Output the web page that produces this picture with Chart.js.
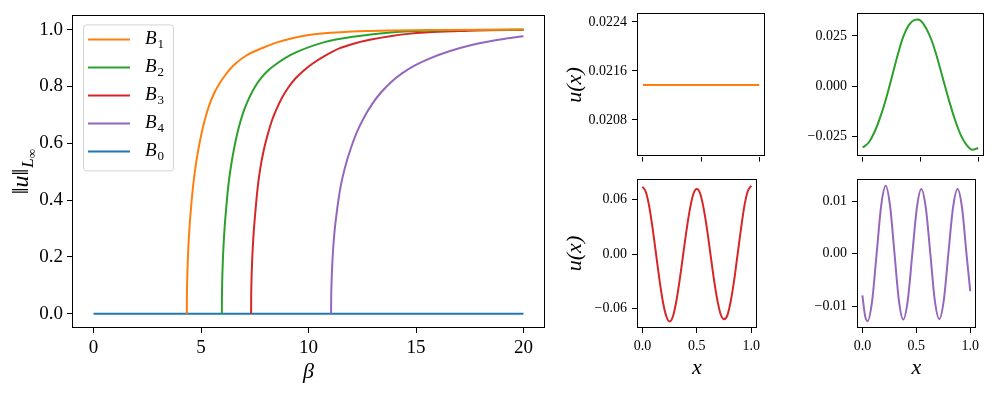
<!DOCTYPE html>
<html>
<head>
<meta charset="utf-8">
<script src="https://cdn.jsdelivr.net/npm/chart.js@4.4.1/dist/chart.umd.min.js"></script>
<style>
  body { margin: 0; background: #fff; }
  .panel { position: absolute; }
</style>
</head>
<body>
<div class="panel" style="left:0;top:0;width:560px;height:393px"><canvas id="branchChart"></canvas></div>
<div class="panel" style="left:560px;top:0;width:205px;height:170px"><canvas id="mode1Chart"></canvas></div>
<div class="panel" style="left:790px;top:0;width:194px;height:170px"><canvas id="mode2Chart"></canvas></div>
<div class="panel" style="left:560px;top:165px;width:205px;height:228px"><canvas id="mode3Chart"></canvas></div>
<div class="panel" style="left:790px;top:165px;width:194px;height:228px"><canvas id="mode4Chart"></canvas></div>
<script>
// bifurcation branches: beta vs ||u||
const branchLabels = ['B1', 'B2', 'B3', 'B4', 'B0'];
const branchColors = ['#ff7f0e', '#2ca02c', '#d62728', '#9467bd', '#1f77b4'];

const b1Beta = [4.34, 4.343, 4.352, 4.37, 4.41, 4.47, 4.54, 4.64, 4.76, 4.88, 5.02, 5.19, 5.39, 5.61, 5.84, 6.09, 6.35, 6.69, 7.09, 7.44,
  7.94, 8.54, 9.15, 9.94, 10.74, 11.48, 12.64, 13.8, 15.84, 20];
const b1Norm = [0, 0.048, 0.097, 0.152, 0.23, 0.309, 0.376, 0.455, 0.525, 0.579, 0.633, 0.686, 0.735, 0.776, 0.808, 0.836, 0.861, 0.886, 0.908, 0.922,
  0.938, 0.955, 0.968, 0.980, 0.987, 0.991, 0.995, 0.997, 0.999, 1.0];

const b2Beta = [5.97, 5.973, 5.982, 6.0, 6.04, 6.10, 6.17, 6.27, 6.39, 6.51, 6.65, 6.82, 7.02, 7.24, 7.52, 7.82, 8.06, 8.47, 9.15, 10.70,
  12.26, 13.80, 15.40, 17.47, 20];
const b2Norm = [0, 0.048, 0.097, 0.152, 0.228, 0.305, 0.37, 0.45, 0.517, 0.57, 0.622, 0.673, 0.72, 0.76, 0.80, 0.832, 0.852, 0.877, 0.91, 0.955,
  0.977, 0.99, 0.996, 0.999, 1.0];

const b3Beta = [7.33, 7.333, 7.342, 7.36, 7.40, 7.46, 7.53, 7.63, 7.75, 7.91, 8.08, 8.30, 8.53, 8.78, 9.07, 9.38, 9.73, 10.18, 10.70, 11.43,
  12.26, 13.03, 13.80, 14.63, 15.40, 16.70, 17.83, 20];
const b3Norm = [0, 0.047, 0.095, 0.148, 0.222, 0.296, 0.36, 0.44, 0.508, 0.573, 0.625, 0.68, 0.723, 0.762, 0.797, 0.827, 0.853, 0.88, 0.905, 0.934,
  0.954, 0.967, 0.977, 0.985, 0.990, 0.994, 0.997, 0.999];

const b4Beta = [11.05, 11.055, 11.07, 11.10, 11.14, 11.21, 11.30, 11.40, 11.52, 11.70, 11.95, 12.25, 12.57, 12.95, 13.35, 13.85, 14.35, 14.95,
  15.65, 16.55, 17.45, 18.32, 19.15, 20];
const b4Norm = [0, 0.053, 0.105, 0.166, 0.221, 0.289, 0.349, 0.404, 0.458, 0.516, 0.578, 0.639, 0.689, 0.737, 0.777, 0.816, 0.846, 0.874,
  0.899, 0.924, 0.943, 0.957, 0.9676, 0.9765];

const b0Beta = [0, 20];
const b0Norm = [0, 0];

const betaTicks = [0, 5, 10, 15, 20];
const normTicks = [0, 0.2, 0.4, 0.6, 0.8, 1.0];

// solution profiles u(x)
const xTicks = [0, 0.5, 1.0];

const u1X = [0, 1];
const u1 = [0.02137, 0.02137];
const u1Ticks = [0.0208, 0.0216, 0.0224];

const u2X = [0, 0.05, 0.1, 0.15, 0.2, 0.25, 0.3, 0.35, 0.4, 0.45, 0.474, 0.5, 0.55, 0.6, 0.65, 0.7, 0.75, 0.8, 0.85, 0.9, 0.95, 1.0];
const u2 = [-0.0307, -0.0283, -0.0232, -0.0158, -0.0067, 0.0040, 0.0150, 0.0245, 0.0305, 0.0330, 0.0332, 0.0326, 0.0287, 0.0222, 0.0130, 0.0025, -0.0078, -0.0171, -0.0246, -0.0295, -0.0318, -0.0309];
const u2Ticks = [-0.025, 0, 0.025];

const u3X = [0, 0.03125, 0.0625, 0.09375, 0.125, 0.15625, 0.1875, 0.21875, 0.25, 0.28125, 0.3125, 0.34375, 0.375, 0.40625, 0.4375, 0.46875, 0.5,
  0.53125, 0.5625, 0.59375, 0.625, 0.65625, 0.6875, 0.71875, 0.75, 0.78125, 0.8125, 0.84375, 0.875, 0.90625, 0.9375, 0.96875, 1.0];
const u3 = [0.0737, 0.068, 0.052, 0.028, 0.000, -0.028, -0.052, -0.068, -0.0741, -0.068, -0.051, -0.027, 0.000, 0.027, 0.050, 0.066, 0.0712,
  0.066, 0.050, 0.027, 0.000, -0.027, -0.050, -0.066, -0.0715, -0.067, -0.051, -0.028, 0.000, 0.028, 0.053, 0.069, 0.0748];
const u3Ticks = [-0.06, 0, 0.06];

const u4X = [0, 0.025, 0.049, 0.09, 0.132, 0.174, 0.216, 0.257, 0.298, 0.338, 0.379, 0.421, 0.463, 0.505, 0.546, 0.588, 0.63, 0.671, 0.713, 0.755, 0.797, 0.84, 0.882, 0.924, 0.965, 1.0];
const u4 = [-0.0079, -0.0118, -0.0128, -0.0090, 0.0000, 0.0091, 0.0129, 0.0090, 0.0000, -0.0088, -0.0125, -0.0088, 0.0000, 0.0087, 0.0123, 0.0087, 0.0000, -0.0088, -0.0124, -0.0088, 0.0000, 0.0087, 0.0123, 0.0087, 0.0000, -0.0071];
const u4Ticks = [-0.01, 0, 0.01];

const SERIF = "'Liberation Serif', 'DejaVu Serif', serif";

function pts(xs, ys) {
  return xs.map((x, i) => ({ x: x, y: ys[i] }));
}

function fmt(v, digits) {
  return v.toFixed(digits).replace('-', '\u2212');
}

// full box around the plot area, like matplotlib spines
const framePlugin = {
  id: 'frame',
  afterDatasetsDraw(chart) {
    const a = chart.chartArea;
    const ctx = chart.ctx;
    ctx.save();
    ctx.strokeStyle = '#000';
    ctx.lineWidth = 1;
    ctx.strokeRect(Math.round(a.left) + 0.5, Math.round(a.top) + 0.5, Math.round(a.right - a.left) - 1, Math.round(a.bottom - a.top) - 1);
    ctx.restore();
  }
};

// draws "B" italic with a subscript digit
function drawSubLabel(ctx, x, y, main, sub, size) {
  ctx.font = 'italic ' + size + 'px ' + SERIF;
  ctx.fillText(main, x, y);
  const w = ctx.measureText(main).width;
  ctx.font = Math.round(size * 0.7) + 'px ' + SERIF;
  ctx.fillText(sub, x + w + 1, y + size * 0.25);
}

const legendPlugin = {
  id: 'boxLegend',
  afterDraw(chart) {
    const ctx = chart.ctx;
    const a = chart.chartArea;
    const left = a.left + 11, top = a.top + 9, w = 90, h = 146;
    ctx.save();
    ctx.fillStyle = 'rgba(255,255,255,0.8)';
    ctx.strokeStyle = '#d4d4d4';
    ctx.lineWidth = 1;
    ctx.beginPath();
    ctx.roundRect(left + 0.5, top + 0.5, w, h, 3);
    ctx.fill();
    ctx.stroke();
    chart.data.datasets.forEach((ds, i) => {
      const y = top + 15 + i * 28;
      ctx.strokeStyle = ds.borderColor;
      ctx.lineWidth = 2;
      ctx.beginPath();
      ctx.moveTo(left + 5, y);
      ctx.lineTo(left + 47, y);
      ctx.stroke();
      ctx.fillStyle = '#000';
      ctx.textBaseline = 'middle';
      ctx.textAlign = 'left';
      drawSubLabel(ctx, left + 62, y, ds.label.charAt(0), ds.label.slice(1), 19);
    });
    ctx.restore();
  }
};

// y axis label ||u||_{L_inf}
const normLabelPlugin = {
  id: 'normLabel',
  afterDraw(chart) {
    const ctx = chart.ctx;
    const a = chart.chartArea;
    ctx.save();
    ctx.translate(22, (a.top + a.bottom) / 2);
    ctx.rotate(-Math.PI / 2);
    ctx.fillStyle = '#000';
    ctx.textBaseline = 'alphabetic';
    ctx.textAlign = 'left';
    ctx.font = 'italic 24px ' + SERIF;
    const mainW = ctx.measureText('\u2016u\u2016').width;
    ctx.font = 'italic 17px ' + SERIF;
    const lW = ctx.measureText('L').width;
    ctx.font = '13px ' + SERIF;
    const infW = ctx.measureText('\u221e').width;
    const total = mainW + lW + infW + 1;
    let x = -total / 2;
    const base = 6;
    ctx.font = 'italic 24px ' + SERIF;
    ctx.fillText('\u2016u\u2016', x, base);
    x += mainW + 1;
    ctx.font = 'italic 17px ' + SERIF;
    ctx.fillText('L', x, base + 5);
    x += lW;
    ctx.font = '13px ' + SERIF;
    ctx.fillText('\u221e', x, base + 8);
    ctx.restore();
  }
};

const mainData = [
  [b1Beta, b1Norm], [b2Beta, b2Norm], [b3Beta, b3Norm], [b4Beta, b4Norm], [b0Beta, b0Norm]
];

new Chart(document.getElementById('branchChart'), {
  type: 'line',
  data: {
    datasets: mainData.map((d, i) => ({
      label: branchLabels[i],
      data: pts(d[0], d[1]),
      borderColor: branchColors[i],
      borderWidth: 2,
      pointRadius: 0,
      fill: false,
      cubicInterpolationMode: 'monotone'
    }))
  },
  options: {
    responsive: true,
    maintainAspectRatio: false,
    animation: false,
    events: [],
    layout: { padding: { top: 10, right: 15, left: 0, bottom: 0 } },
    plugins: { legend: { display: false }, tooltip: { enabled: false } },
    scales: {
      x: {
        type: 'linear', min: -1, max: 21,
        afterBuildTicks: s => { s.ticks = betaTicks.map(v => ({ value: v })); },
        afterFit: s => { s.height = 65; },
        ticks: { color: '#000', font: { family: SERIF, size: 19 }, padding: 4, maxRotation: 0, callback: v => String(v) },
        grid: { drawOnChartArea: false, color: '#000', tickLength: 5 },
        border: { display: false },
        title: { display: true, text: '\u03b2', color: '#000', font: { family: SERIF, size: 22, style: 'italic' }, padding: { top: 0, bottom: 8 } }
      },
      y: {
        type: 'linear', min: -0.05, max: 1.05,
        afterBuildTicks: s => { s.ticks = normTicks.map(v => ({ value: v })); },
        afterFit: s => { s.width = 72; },
        ticks: { color: '#000', font: { family: SERIF, size: 19 }, padding: 4, callback: v => fmt(v, 1) },
        grid: { drawOnChartArea: false, color: '#000', tickLength: 5 },
        border: { display: false }
      }
    }
  },
  plugins: [framePlugin, legendPlugin, normLabelPlugin]
});

function profileChart(id, xs, ys, color, yMin, yMax, yTicks, digits, yWidth, bottomRow, showYTitle) {
  return new Chart(document.getElementById(id), {
    type: 'line',
    data: {
      datasets: [{
        data: pts(xs, ys),
        borderColor: color,
        borderWidth: 2,
        pointRadius: 0,
        fill: false,
        cubicInterpolationMode: 'monotone'
      }]
    },
    options: {
      responsive: true,
      maintainAspectRatio: false,
      animation: false,
      events: [],
      layout: { padding: { top: bottomRow ? 14 : 10, right: 0, left: 0, bottom: 0 } },
      plugins: { legend: { display: false }, tooltip: { enabled: false } },
      scales: {
        x: {
          type: 'linear', min: -0.05, max: 1.05,
          afterBuildTicks: s => { s.ticks = xTicks.map(v => ({ value: v })); },
          afterFit: s => { s.height = bottomRow ? 65 : 11; },
          ticks: { color: '#000', font: { family: SERIF, size: 14 }, padding: 5, maxRotation: 0, autoSkip: false,
                   callback: v => bottomRow ? fmt(v, 1) : '' },
          grid: { drawOnChartArea: false, color: '#000', tickLength: 5 },
          border: { display: false },
          title: { display: bottomRow, text: 'x', color: '#000', font: { family: SERIF, size: 22, style: 'italic' }, padding: { top: 0, bottom: 12 } }
        },
        y: {
          type: 'linear', min: yMin, max: yMax,
          afterBuildTicks: s => { s.ticks = yTicks.map(v => ({ value: v })); },
          afterFit: s => { s.width = yWidth; },
          ticks: { color: '#000', font: { family: SERIF, size: 14 }, padding: 5, autoSkip: false, callback: v => fmt(v, digits) },
          grid: { drawOnChartArea: false, color: '#000', tickLength: 5 },
          border: { display: false },
          title: { display: showYTitle, text: 'u(x)', color: '#000', font: { family: SERIF, size: 22, style: 'italic' }, padding: { top: 2, bottom: 0 } }
        }
      }
    },
    plugins: [framePlugin]
  });
}

profileChart('mode1Chart', u1X, u1, branchColors[0], 0.0202, 0.02254, u1Ticks, 4, 77, false, true);
profileChart('mode2Chart', u2X, u2, branchColors[1], -0.0352, 0.0362, u2Ticks, 3, 67, false, false);
profileChart('mode3Chart', u3X, u3, branchColors[2], -0.0811, 0.0822, u3Ticks, 2, 77, true, true);
profileChart('mode4Chart', u4X, u4, branchColors[3], -0.0141, 0.0142, u4Ticks, 2, 67, true, false);
</script>
</body>
</html>
